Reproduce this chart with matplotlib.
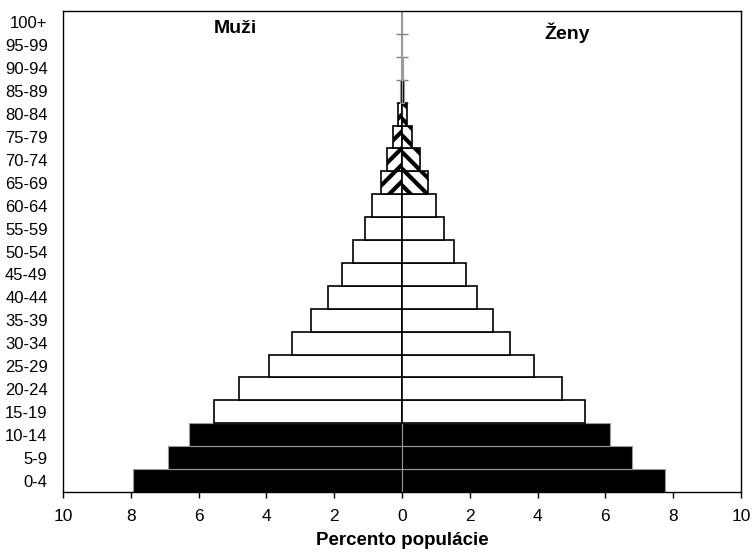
import matplotlib.pyplot as plt
import numpy as np

plt.rcParams["font.family"] = ["Liberation Sans", "DejaVu Sans"]
plt.rcParams["hatch.linewidth"] = 3.0

ages = ["0-4", "5-9", "10-14", "15-19", "20-24", "25-29", "30-34", "35-39",
        "40-44", "45-49", "50-54", "55-59", "60-64", "65-69", "70-74",
        "75-79", "80-84", "85-89", "90-94", "95-99", "100+"]
men = [7.94, 6.90, 6.28, 5.55, 4.81, 3.92, 3.24, 2.68, 2.18, 1.77, 1.45,
       1.09, 0.88, 0.62, 0.44, 0.27, 0.12, 0.05, 0.015, 0.004, 0.0]
women = [7.77, 6.78, 6.14, 5.41, 4.71, 3.89, 3.19, 2.67, 2.20, 1.89, 1.53,
         1.25, 1.00, 0.76, 0.53, 0.30, 0.15, 0.06, 0.02, 0.005, 0.0]


def style_for(i):
    # children and oldest: solid black, working age: white, pensioners: hatched
    if i < 3 or i >= 17:
        return dict(color="black", edgecolor="#9a9a9a", linewidth=0.8)
    if i < 13:
        return dict(color="white", edgecolor="black", linewidth=1.2)
    return dict(color="white", edgecolor="black", linewidth=1.2, hatch="hatch")


fig = plt.figure(figsize=(7.55, 5.53), dpi=100)
ax = fig.add_axes([0.0834, 0.1103, 0.8981, 0.8698])

y = np.arange(len(ages))
for i in y:
    st = style_for(i)
    hatch = st.pop("hatch", None)
    ax.barh(i, -men[i], height=1.0, hatch="//" if hatch else None, **st)
    ax.barh(i, women[i], height=1.0, hatch="\\\\" if hatch else None, **st)

# centre axis with cross ticks between age groups
ax.axvline(0, color="#808080", linewidth=1.2, zorder=0.5)
ax.plot(np.zeros(len(ages) - 1), y[1:] - 0.5, linestyle="none",
        marker="_", markersize=8, color="#808080", zorder=0.5)

ax.set_xlim(-10, 10)
ax.set_ylim(-0.5, len(ages) - 0.5)
ticks = np.arange(-10, 11, 2)
ax.set_xticks(ticks)
ax.set_xticklabels([str(abs(t)) for t in ticks], fontsize=12.5)
ax.tick_params(axis="x", direction="out", length=4, width=1, pad=8)
ax.set_yticks(y)
ax.set_yticklabels(ages, fontsize=12)
ax.tick_params(axis="y", length=0, pad=11)
for sp in ax.spines.values():
    sp.set_color("black")
    sp.set_linewidth(1.0)

ax.text(-5.55, 19.75, "Muži", fontsize=14, fontweight="bold", ha="left", va="center")
ax.text(4.19, 19.55, "Ženy", fontsize=14, fontweight="bold", ha="left", va="center")
ax.set_xlabel("Percento populácie", fontsize=13.5, fontweight="bold", labelpad=6)

fig.savefig("out.png", dpi=100)
